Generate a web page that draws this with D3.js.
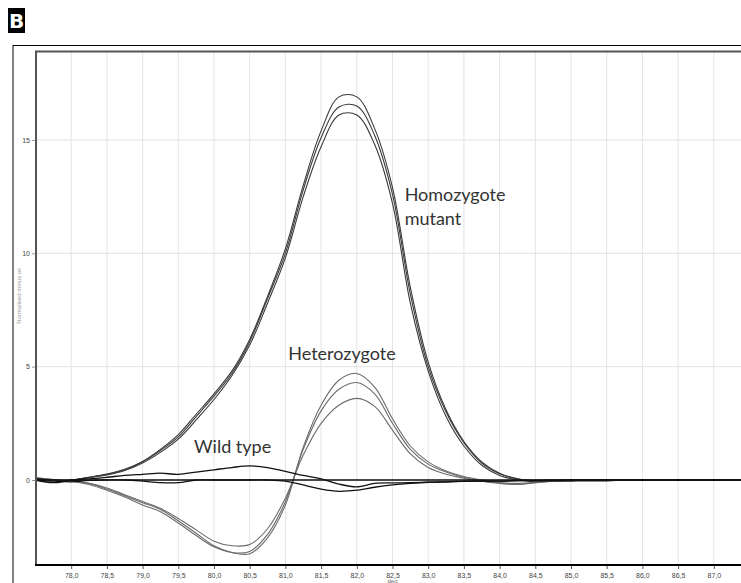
<!DOCTYPE html>
<html>
<head>
<meta charset="utf-8">
<script src="https://cdn.jsdelivr.net/npm/d3@7/dist/d3.min.js"></script>
<style>
  html, body { margin: 0; padding: 0; background: #fff; }
  svg { display: block; }
</style>
</head>
<body>
<svg id="chart" width="741" height="583"></svg>
<script>
// Melting temperature grid (°C)
const temps = [77.5, 77.75, 78.0, 78.25, 78.5, 78.75, 79.0, 79.25, 79.5, 79.75,
  80.0, 80.25, 80.5, 80.75, 81.0, 81.25, 81.5, 81.75, 82.0, 82.25,
  82.5, 82.75, 83.0, 83.25, 83.5, 83.75, 84.0, 84.25, 84.5, 84.75,
  85.0, 85.25, 85.5, 85.75, 86.0, 86.25, 86.5, 86.75, 87.0, 87.25, 87.5];

// Homozygote mutant replicates
const homoA = [0.05, 0.0, 0.0, 0.12, 0.26, 0.47, 0.82, 1.35, 2.0, 2.9,
  3.8, 4.8, 6.2, 8.1, 10.2, 13.0, 15.4, 16.9, 16.9, 15.5,
  12.9, 8.5, 5.2, 3.1, 1.7, 0.8, 0.3, 0.05, -0.05, -0.05,
  -0.04, -0.03, -0.03, -0.02, -0.02, -0.01, -0.01, 0.0, 0.0, 0.0, 0.0];
const homoB = [0.05, 0.0, 0.0, 0.12, 0.25, 0.45, 0.8, 1.3, 1.9, 2.8,
  3.7, 4.7, 6.1, 8.0, 10.0, 12.8, 15.1, 16.45, 16.5, 15.2,
  12.6, 8.2, 5.0, 3.0, 1.65, 0.75, 0.28, 0.05, -0.05, -0.05,
  -0.04, -0.03, -0.03, -0.02, -0.02, -0.01, -0.01, 0.0, 0.0, 0.0, 0.0];
const homoC = [0.05, 0.0, 0.0, 0.1, 0.22, 0.42, 0.75, 1.22, 1.8, 2.65,
  3.55, 4.6, 5.95, 7.8, 9.8, 12.5, 14.7, 16.1, 16.1, 14.8,
  12.2, 7.8, 4.8, 2.8, 1.5, 0.65, 0.2, 0.0, -0.06, -0.05,
  -0.04, -0.03, -0.03, -0.02, -0.02, -0.01, -0.01, 0.0, 0.0, 0.0, 0.0];

// Heterozygote replicates
const hetA = [0.1, 0.02, -0.05, -0.15, -0.4, -0.7, -1.0, -1.3, -1.8, -2.35,
  -2.9, -3.2, -3.25, -2.55, -1.1, 1.45, 3.3, 4.4, 4.7, 4.1,
  2.7, 1.5, 0.8, 0.4, 0.15, 0.0, -0.12, -0.18, -0.12, -0.05,
  -0.02, 0.0, 0.0, 0.0, 0.0, 0.0, 0.0, 0.0, 0.0, 0.0, 0.0];
const hetB = [0.08, 0.0, -0.05, -0.2, -0.45, -0.75, -1.1, -1.4, -1.9, -2.45,
  -2.95, -3.2, -3.15, -2.4, -0.95, 1.35, 3.05, 4.0, 4.3, 3.8,
  2.5, 1.35, 0.7, 0.35, 0.12, -0.05, -0.15, -0.2, -0.12, -0.05,
  0.0, 0.0, 0.0, 0.0, 0.0, 0.0, 0.0, 0.0, 0.0, 0.0, 0.0];
const hetC = [0.1, 0.02, -0.03, -0.15, -0.35, -0.65, -0.95, -1.25, -1.7, -2.2,
  -2.7, -2.9, -2.85, -2.15, -0.8, 1.1, 2.5, 3.3, 3.6, 3.25,
  2.2, 1.15, 0.55, 0.25, 0.08, -0.05, -0.12, -0.15, -0.1, -0.05,
  0.0, 0.0, 0.0, 0.0, 0.0, 0.0, 0.0, 0.0, 0.0, 0.0, 0.0];

// Wild type replicates
const wtA = [0.05, 0.0, 0.0, 0.05, 0.12, 0.2, 0.25, 0.3, 0.25, 0.35,
  0.45, 0.55, 0.62, 0.55, 0.38, 0.2, 0.05, -0.18, -0.3, -0.15,
  -0.13, -0.12, -0.1, -0.08, -0.06, -0.05, -0.05, -0.03, -0.02, -0.01,
  0.0, 0.0, 0.0, 0.0, 0.0, 0.0, 0.0, 0.0, 0.0, 0.0, 0.0];
const wtB = [0.0, -0.05, -0.08, -0.02, 0.0, 0.0, -0.05, -0.12, -0.12, 0.0,
  0.0, 0.0, 0.0, 0.0, -0.05, -0.22, -0.4, -0.5, -0.45, -0.32,
  -0.22, -0.15, -0.1, -0.08, -0.05, -0.05, -0.05, -0.03, -0.02, -0.01,
  0.0, 0.0, 0.0, 0.0, 0.0, 0.0, 0.0, 0.0, 0.0, 0.0, 0.0];
const wtC = [0.0, -0.12, -0.02, 0.0, 0.0, 0.0, 0.0, 0.0, 0.0, 0.0,
  0.0, 0.0, 0.0, 0.0, 0.0, 0.0, 0.0, 0.0, 0.0, 0.0,
  0.0, 0.0, 0.0, 0.0, 0.0, 0.0, 0.0, 0.0, 0.0, 0.0,
  0.0, 0.0, 0.0, 0.0, 0.0, 0.0, 0.0, 0.0, 0.0, 0.0, 0.0];

// Axis ticks
const xTicks = [78.0, 78.5, 79.0, 79.5, 80.0, 80.5, 81.0, 81.5, 82.0, 82.5,
  83.0, 83.5, 84.0, 84.5, 85.0, 85.5, 86.0, 86.5, 87.0];
const yTicks = [0, 5, 10, 15];

const groups = [
  { series: [hetA, hetB, hetC], color: "#6b6b6b", width: 1.1 },
  { series: [homoA, homoB, homoC], color: "#3a3a3a", width: 1.1 },
  { series: [wtA, wtB, wtC], color: "#111111", width: 1.3 }
];

const labels = [
  { text: "Homozygote", t: 82.67, v: 12.3 },
  { text: "mutant", t: 82.67, v: 11.25 },
  { text: "Heterozygote", t: 81.04, v: 5.3 },
  { text: "Wild type", t: 79.72, v: 1.19 }
];

const svg = d3.select("#chart");
const plot = { left: 36, top: 51.5, bottom: 565, right: 770 };

const x = d3.scaleLinear().domain([77.5, 87.6]).range([35.5, 35.5 + 10.1 * 71.4]);
const y = d3.scaleLinear().domain([-3.75, 18.88]).range([565, 52]);

// Outer figure frame
svg.append("line").attr("x1", 13).attr("x2", 13).attr("y1", 45).attr("y2", 583)
  .attr("stroke", "#000").attr("stroke-width", 1);
svg.append("line").attr("x1", 13).attr("x2", 741).attr("y1", 45.5).attr("y2", 45.5)
  .attr("stroke", "#000").attr("stroke-width", 1);

// Panel letter
svg.append("rect").attr("x", 8).attr("y", 8).attr("width", 17).attr("height", 25).attr("fill", "#000");
svg.append("text").attr("x", 16.5).attr("y", 28).attr("text-anchor", "middle")
  .attr("font-family", "DejaVu Sans, sans-serif").attr("font-weight", "bold")
  .attr("font-size", 20).attr("fill", "#fff").text("B");

// Grid
svg.append("g").selectAll("line").data(xTicks).join("line")
  .attr("x1", d => x(d)).attr("x2", d => x(d))
  .attr("y1", plot.top).attr("y2", plot.bottom)
  .attr("stroke", "#e4e4e4").attr("stroke-width", 1);
svg.append("g").selectAll("line").data(yTicks).join("line")
  .attr("x1", plot.left).attr("x2", plot.right)
  .attr("y1", d => y(d)).attr("y2", d => y(d))
  .attr("stroke", "#e4e4e4").attr("stroke-width", 1);

// Curves
const line = d3.line()
  .x((d, i) => x(temps[i]))
  .y(d => y(d))
  .curve(d3.curveCatmullRom.alpha(0.5));

const curves = svg.append("g").attr("fill", "none").attr("stroke-linejoin", "round");
groups.forEach(g => {
  g.series.forEach(s => {
    curves.append("path").attr("d", line(s))
      .attr("stroke", g.color).attr("stroke-width", g.width);
  });
});

// Axes
const xAxis = d3.axisBottom(x).tickValues(xTicks).tickSize(4)
  .tickFormat(d => d3.format(".1f")(d).replace(".", ","));
const gx = svg.append("g").attr("transform", `translate(0,${plot.bottom})`).call(xAxis);
gx.select(".domain").remove();
gx.selectAll(".tick line").attr("stroke", "#555");
gx.selectAll(".tick text").attr("font-family", "Liberation Sans, Arial, sans-serif")
  .attr("font-size", 7).attr("fill", "#444").attr("dy", "0.9em");

const yAxis = d3.axisLeft(y).tickValues(yTicks).tickSize(4).tickFormat(d3.format("d"));
const gy = svg.append("g").attr("transform", `translate(${plot.left},0)`).call(yAxis);
gy.select(".domain").remove();
gy.selectAll(".tick line").attr("stroke", "#999");
gy.selectAll(".tick text").attr("font-family", "Liberation Sans, Arial, sans-serif")
  .attr("font-size", 7).attr("fill", "#444").attr("x", -6);

// Plot frame
svg.append("line").attr("x1", plot.left).attr("x2", plot.left)
  .attr("y1", plot.top).attr("y2", plot.bottom)
  .attr("stroke", "#555").attr("stroke-width", 2);
svg.append("line").attr("x1", plot.left - 1).attr("x2", plot.right)
  .attr("y1", plot.top).attr("y2", plot.top)
  .attr("stroke", "#555").attr("stroke-width", 2);
svg.append("line").attr("x1", plot.left - 1).attr("x2", plot.right)
  .attr("y1", plot.bottom).attr("y2", plot.bottom)
  .attr("stroke", "#000").attr("stroke-width", 2.2);

// Axis titles
svg.append("text").attr("transform", "translate(21,296) rotate(-90)")
  .attr("text-anchor", "middle").attr("font-family", "Liberation Sans, Arial, sans-serif")
  .attr("font-size", 6).attr("fill", "#999").text("Normalised minus wt");
svg.append("text").attr("x", x(82.5)).attr("y", 583).attr("text-anchor", "middle")
  .attr("font-family", "Liberation Sans, Arial, sans-serif")
  .attr("font-size", 6).attr("fill", "#666").text("deg");

// Curve annotations
svg.append("g").selectAll("text").data(labels).join("text")
  .attr("x", d => x(d.t)).attr("y", d => y(d.v))
  .attr("font-family", "Lato, sans-serif").attr("font-size", 18)
  .attr("fill", "#333").text(d => d.text);
</script>
</body>
</html>
